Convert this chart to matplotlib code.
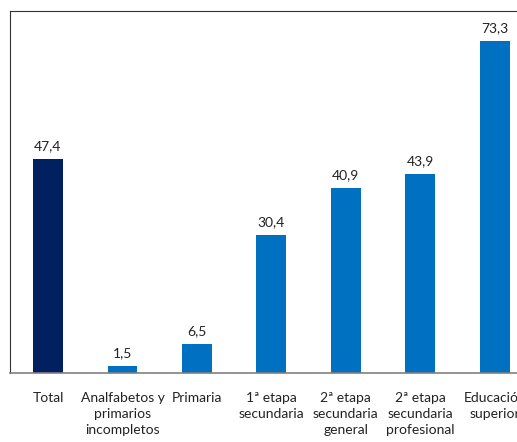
import matplotlib.pyplot as plt

categorias = ['Total', 'Analfabetos y\nprimarios\nincompletos', 'Primaria',
              '1ª etapa\nsecundaria', '2ª etapa\nsecundaria\ngeneral',
              '2ª etapa\nsecundaria\nprofesional', 'Educación\nsuperior']
valores = [47.4, 1.5, 6.5, 30.4, 40.9, 43.9, 73.3]
etiquetas = ['47,4', '1,5', '6,5', '30,4', '40,9', '43,9', '73,3']

plt.rcParams['font.family'] = ['Lato', 'DejaVu Sans']

fig = plt.figure(figsize=(5.17, 4.42), dpi=100)
ax = fig.add_axes([10/517, 69/442, 522/517, 362/442])

colores = ['#002060'] + ['#0070C0'] * (len(valores) - 1)
x = range(len(valores))
ax.bar(x, valores, width=0.4, color=colores)

for i, v in enumerate(valores):
    ax.text(i, v + 1.5, etiquetas[i], ha='center', va='bottom', fontsize=10, color='#222222')

ax.set_xlim(-0.51, 6.5)
ax.set_ylim(0, 80)
ax.set_xticks(list(x))
ax.set_xticklabels(categorias, fontsize=10, linespacing=1.4, va='top', color='#222222')
ax.tick_params(axis='x', length=0, pad=14)
ax.set_yticks([])

ax.spines['left'].set_color('#333333')
ax.spines['top'].set_color('#333333')
ax.spines['right'].set_visible(False)
ax.spines['bottom'].set_color('#808080')
ax.spines['bottom'].set_linewidth(1.2)

fig.savefig('out.png', dpi=100)
